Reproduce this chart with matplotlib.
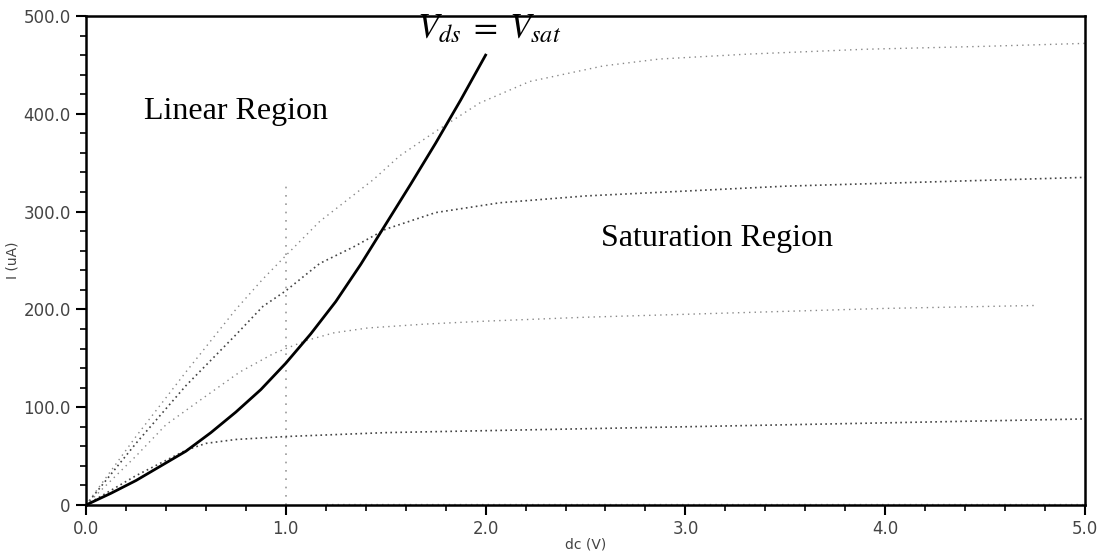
import matplotlib
matplotlib.use("Agg")
import matplotlib.pyplot as plt

# Data
vsat_x = [0.0, 0.125, 0.25, 0.375, 0.5, 0.625, 0.75, 0.875, 1.0, 1.125, 1.25, 1.375, 1.5, 1.625, 1.75, 1.875, 2.0]
vsat_y = [0, 12, 25, 40, 55, 74, 95, 118, 145, 175, 208, 246, 287, 328, 370, 414, 460]

c1_x = [0.0, 0.25, 0.5, 0.6, 0.75, 1.0, 1.5, 2.0, 2.5, 3.0, 3.5, 4.0, 4.5, 5.0]
c1_y = [0, 30, 56, 63, 67, 70, 74, 76, 78, 80, 82, 84, 86, 88]

c2_x = [0.0, 0.25, 0.4, 0.57, 0.77, 0.94, 1.1, 1.24, 1.41, 1.7, 2.0, 2.5, 3.0, 3.5, 4.0, 4.5, 4.75]
c2_y = [0, 50, 82, 107, 136, 155, 168, 176, 181, 185, 188, 192, 195, 198, 201, 203, 204]

c3_x = [0.0, 0.25, 0.5, 0.75, 0.885, 1.0, 1.17, 1.34, 1.5, 1.75, 2.07, 2.5, 3.0, 3.5, 4.0, 4.5, 5.0]
c3_y = [0, 63, 122, 174, 203, 219, 247, 264, 282, 299, 309, 316, 321, 326, 329, 332, 335]

c4_x = [0.0, 0.25, 0.5, 0.75, 0.885, 1.0, 1.17, 1.44, 1.57, 1.75, 1.97, 2.22, 2.59, 2.87, 3.31, 3.9, 4.5, 5.0]
c4_y = [0, 70, 136, 200, 231, 255, 290, 333, 357, 382, 411, 433, 449, 456, 461, 466, 469, 472]

off_x = [1.2, 2.0, 3.0, 4.0, 5.0]
off_y = [1.5, 1.5, 1.5, 1.5, 1.5]

cursor_x = [1.0, 1.0]
cursor_y = [0, 330]

xticks = [0.0, 1.0, 2.0, 3.0, 4.0, 5.0]
xticklabels = ["0.0", "1.0", "2.0", "3.0", "4.0", "5.0"]
yticks = [0, 100, 200, 300, 400, 500]
yticklabels = ["0", "100.0", "200.0", "300.0", "400.0", "500.0"]

plt.rcParams["mathtext.fontset"] = "stix"
fig = plt.figure(figsize=(11.04, 5.55), dpi=100)
ax = fig.add_axes([86 / 1104, 50 / 555, 999 / 1104, 489 / 555])

dot = (0, (1, 2))
ax.plot(cursor_x, cursor_y, color="#999999", lw=1.2, ls=(0, (1, 4)))
ax.plot(off_x, off_y, color="#aaaaaa", lw=1.0, ls=(0, (1, 3)))
ax.plot(c1_x, c1_y, color="#444444", lw=1.2, ls=dot)
ax.plot(c2_x, c2_y, color="#888888", lw=1.0, ls=(0, (1, 3)))
ax.plot(c3_x, c3_y, color="#444444", lw=1.2, ls=dot)
ax.plot(c4_x, c4_y, color="#888888", lw=1.0, ls=(0, (1, 3)))
ax.plot(vsat_x, vsat_y, color="black", lw=2.0)

ax.set_xlim(0, 5)
ax.set_ylim(0, 500)
ax.set_xticks(xticks)
ax.set_xticklabels(xticklabels)
ax.set_yticks(yticks)
ax.set_yticklabels(yticklabels)
ax.set_xticks([i * 0.2 for i in range(26)], minor=True)
ax.set_yticks([i * 20 for i in range(26)], minor=True)
ax.tick_params(which="major", direction="out", length=7, width=1.5, labelsize=12, labelcolor="#444444", pad=4)
ax.tick_params(which="minor", direction="out", length=4, width=1.2)
for s in ax.spines.values():
    s.set_linewidth(1.8)

ax.set_xlabel("dc (V)", fontsize=10, color="#444444")
ax.set_ylabel("I (uA)", fontsize=10, color="#444444")
ax.xaxis.set_label_coords(0.5, -33 / 489)
ax.yaxis.set_label_coords(-66 / 999, 0.5)

serif = ["Liberation Serif", "DejaVu Serif"]
ax.text(0.75, 402, "Linear Region", fontsize=23, family=serif, ha="center", va="center")
ax.text(3.16, 273, "Saturation Region", fontsize=23, family=serif, ha="center", va="center")
ax.text(2.02, 488, r"$V_{ds}\;=\;V_{sat}$", fontsize=25, ha="center", va="center", clip_on=False)

fig.savefig("out.png", dpi=100)
